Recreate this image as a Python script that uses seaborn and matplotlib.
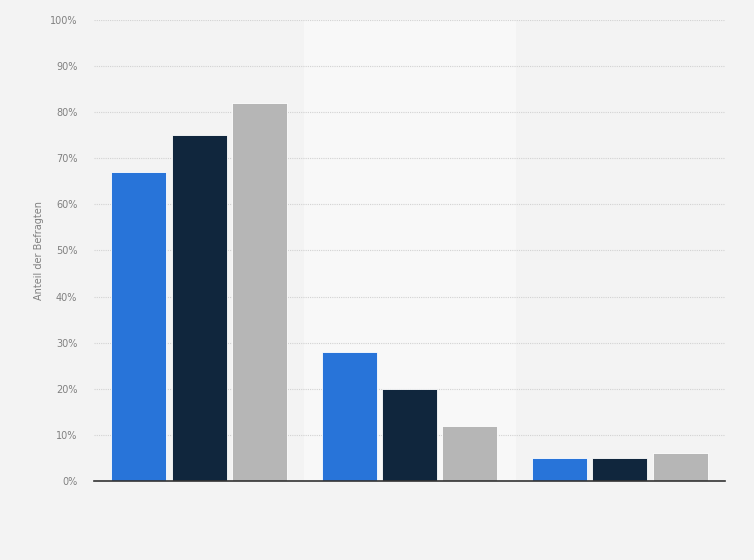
import matplotlib
matplotlib.use("Agg")
import matplotlib.pyplot as plt
import seaborn as sns
import pandas as pd

categories = ["Kategorie 1", "Kategorie 2", "Kategorie 3"]
series = ["Gruppe A", "Gruppe B", "Gruppe C"]
values_a = [67, 28, 5]
values_b = [75, 20, 5]
values_c = [82, 12, 6]
y_ticks = [0, 10, 20, 30, 40, 50, 60, 70, 80, 90, 100]
y_label = "Anteil der Befragten"

colors = ["#2874d9", "#10263d", "#b6b6b6"]

rows = []
for s, vals in zip(series, [values_a, values_b, values_c]):
    for c, v in zip(categories, vals):
        rows.append({"Kategorie": c, "Serie": s, "Wert": v})
df = pd.DataFrame(rows)

sns.set_style("white")
plt.rcParams["font.family"] = ["DejaVu Sans"]

bg = "#f3f3f3"
fig = plt.figure(figsize=(7.54, 5.60), dpi=100, facecolor=bg)
ax = fig.add_axes([94 / 754, 79 / 560, 631 / 754, 461 / 560])
ax.set_facecolor(bg)

# lighter band behind the middle category
ax.axvspan(0.5, 1.5, color="#f8f8f8", zorder=0)

sns.barplot(data=df, x="Kategorie", y="Wert", hue="Serie", palette=colors,
            saturation=1, width=0.86, gap=0.09, edgecolor="#ffffff",
            linewidth=0.6, legend=False, ax=ax, zorder=3)

ax.set_xlim(-0.5, 2.5)
ax.set_ylim(0, 100)
ax.set_yticks(y_ticks)
ax.set_yticklabels([f"{t}%" for t in y_ticks], color="#808080", fontsize=7)
ax.tick_params(axis="y", length=0, pad=12)
ax.tick_params(axis="x", length=0, labelbottom=False)
ax.set_xlabel("")
ax.set_ylabel(y_label, color="#808080", fontsize=7, labelpad=4)

ax.grid(axis="y", color="#d2d2d2", linestyle=(0, (1, 1)), linewidth=0.8, zorder=1)
ax.set_axisbelow(True)
for side in ["top", "right", "left"]:
    ax.spines[side].set_visible(False)
ax.spines["bottom"].set_color("#333333")
ax.spines["bottom"].set_linewidth(1.2)
ax.spines["bottom"].set_zorder(5)

fig.savefig("out.png", dpi=100, facecolor=bg)
